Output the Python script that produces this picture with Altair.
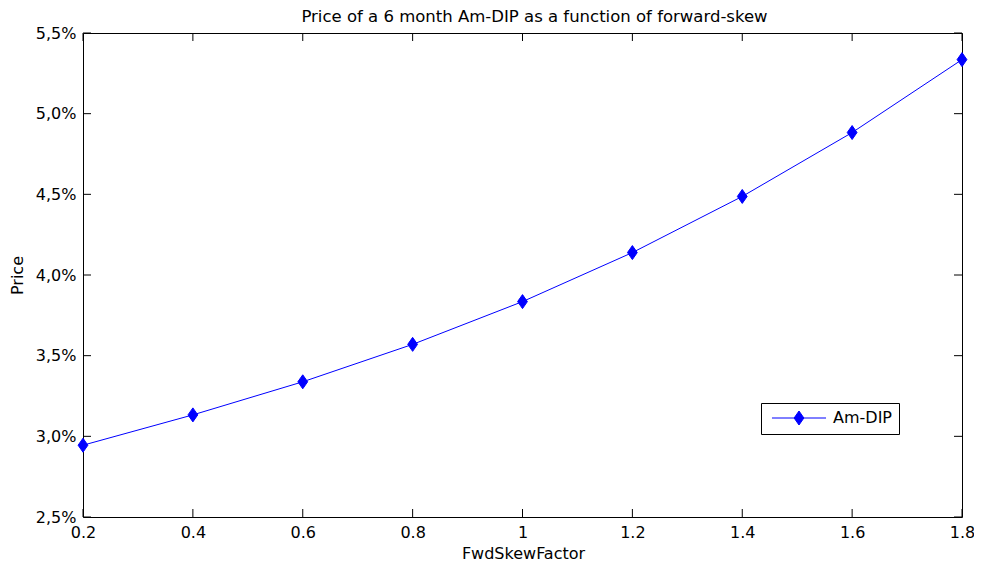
import altair as alt
import pandas as pd

# ---- data ----
skew = [0.2, 0.4, 0.6, 0.8, 1.0, 1.2, 1.4, 1.6, 1.8]
price = [0.02945, 0.03133, 0.03338, 0.03570, 0.03835, 0.04139, 0.04487, 0.04883, 0.05335]
series = ["Am-DIP"] * len(skew)
x_ticks = [0.2, 0.4, 0.6, 0.8, 1.0, 1.2, 1.4, 1.6, 1.8]
y_ticks = [0.025, 0.030, 0.035, 0.040, 0.045, 0.050, 0.055]

df = pd.DataFrame({"skew": skew, "price": price, "series": series})
xt = pd.DataFrame({"t": x_ticks})
yt = pd.DataFrame({"t": y_ticks})

FONT = "DejaVu Sans"
BLUE = "#0000ff"
W, H = 879, 484
TICK = 8
DIAMOND = "M0,-1L0.7,0L0,1L-0.7,0Z"
LEG_SYM = "M-3.86,0L3.86,0M0,-1L0.7,0L0,1L-0.7,0Z"

xs = alt.Scale(domain=[0.2, 1.8], nice=False, zero=False)
ys = alt.Scale(domain=[0.025, 0.055], nice=False, zero=False)

x_axis = alt.Axis(values=x_ticks, format="~g", title="FwdSkewFactor", tickSize=0,
                  labelPadding=7, grid=False, domain=False, labelFlush=False,
                  titleX=440, titleY=36, titleBaseline="middle", titleAlign="center")
y_axis = alt.Axis(values=y_ticks, title="Price", tickSize=0, labelPadding=7, grid=False,
                  domain=False, labelFlush=False,
                  labelExpr="replace(format(datum.value, '.1%'), '.', ',')",
                  titleX=-66, titleY=H / 2, titleAngle=270, titleBaseline="middle",
                  titleAlign="center")

line = alt.Chart(df).mark_line(color=BLUE, strokeWidth=1).encode(
    x=alt.X("skew:Q", scale=xs, axis=x_axis),
    y=alt.Y("price:Q", scale=ys, axis=y_axis),
)

points = alt.Chart(df).mark_point(shape=DIAMOND, filled=True, size=196, opacity=1,
                                  strokeWidth=1, stroke=BLUE).encode(
    x=alt.X("skew:Q", scale=xs, axis=x_axis),
    y=alt.Y("price:Q", scale=ys, axis=y_axis),
    color=alt.Color("series:N", scale=alt.Scale(range=[BLUE]),
                    legend=alt.Legend(title=None, orient="none", legendX=678, legendY=370,
                                      symbolType=LEG_SYM, symbolSize=196,
                                      symbolFillColor=BLUE, symbolStrokeColor=BLUE,
                                      symbolStrokeWidth=1, symbolOffset=23, labelOffset=26,
                                      padding=7, strokeColor="black", fillColor="white",
                                      labelFont=FONT, labelFontSize=16, labelColor="black")),
)

bottom_ticks = alt.Chart(xt).mark_rule(color="black", strokeWidth=1).encode(
    x=alt.X("t:Q", scale=xs, axis=x_axis), y=alt.value(H), y2=alt.value(H - TICK))
top_ticks = alt.Chart(xt).mark_rule(color="black", strokeWidth=1).encode(
    x=alt.X("t:Q", scale=xs, axis=x_axis), y=alt.value(0), y2=alt.value(TICK))
left_ticks = alt.Chart(yt).mark_rule(color="black", strokeWidth=1).encode(
    y=alt.Y("t:Q", scale=ys, axis=y_axis), x=alt.value(0), x2=alt.value(TICK))
right_ticks = alt.Chart(yt).mark_rule(color="black", strokeWidth=1).encode(
    y=alt.Y("t:Q", scale=ys, axis=y_axis), x=alt.value(W), x2=alt.value(W - TICK))

chart = alt.layer(line, points, bottom_ticks, top_ticks, left_ticks, right_ticks).properties(
    width=W, height=H,
    title=alt.TitleParams("Price of a 6 month Am-DIP as a function of forward-skew",
                          font=FONT, fontSize=16.5, fontWeight="normal", anchor="middle",
                          color="black", offset=0, dx=12),
    autosize=alt.AutoSizeParams(type="none"),
    padding={"left": 75, "top": 25, "right": 12, "bottom": 46},
    background="white",
).configure_view(stroke="black", strokeWidth=1).configure_axis(
    labelFont=FONT, labelFontSize=16, labelColor="black",
    titleFont=FONT, titleFontSize=16, titleFontWeight="normal", titleColor="black",
)

chart.save("out.html", embed_options={"renderer": "svg", "actions": False})
